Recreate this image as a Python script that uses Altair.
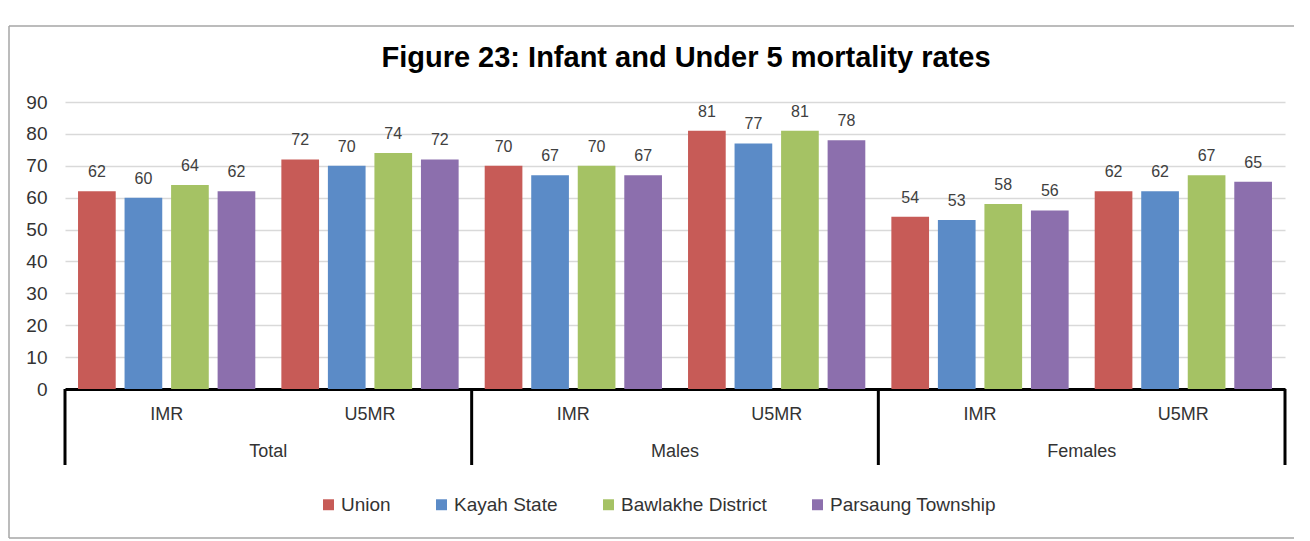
import altair as alt
import pandas as pd

title_text = "Figure 23: Infant and Under 5 mortality rates"
groups = ["Total", "Males", "Females"]
subs = ["IMR", "U5MR"]
series = ["Union", "Kayah State", "Bawlakhe District", "Parsaung Township"]
colors = ["#C75B57", "#5B8BC7", "#A5C264", "#8C6FAD"]

# values per (group, sub) in series order
total_imr = [62, 60, 64, 62]
total_u5mr = [72, 70, 74, 72]
males_imr = [70, 67, 70, 67]
males_u5mr = [81, 77, 81, 78]
females_imr = [54, 53, 58, 56]
females_u5mr = [62, 62, 67, 65]

y_ticks = [0, 10, 20, 30, 40, 50, 60, 70, 80, 90]

W, H = 1220, 287
PAD = {"left": 57, "top": 94, "right": 9, "bottom": 151}
FONT = "Liberation Sans"

blocks = {
    ("Total", "IMR"): total_imr, ("Total", "U5MR"): total_u5mr,
    ("Males", "IMR"): males_imr, ("Males", "U5MR"): males_u5mr,
    ("Females", "IMR"): females_imr, ("Females", "U5MR"): females_u5mr,
}
cats = [f"{g}|{s}" for g in groups for s in subs]
rows = []
for (g, s), vals in blocks.items():
    for ser, v in zip(series, vals):
        rows.append({"cat": f"{g}|{s}", "group": g, "sub": s, "series": ser, "value": v})
df = pd.DataFrame(rows)

cat_df = pd.DataFrame({"cat": cats, "sub": [c.split("|")[1] for c in cats]})
grp_df = pd.DataFrame({"cat": [f"{g}|U5MR" for g in groups], "group": groups})
sep_df = pd.DataFrame({"cat": [f"{g}|IMR" for g in groups]})
end_df = pd.DataFrame({"cat": [cats[-1]]})
title_df = pd.DataFrame({"t": [title_text]})

xscale = alt.Scale(domain=cats, paddingInner=0, paddingOuter=0)
x_axis = alt.Axis(labels=False, ticks=False, title=None, domain=True,
                  domainColor="#000000", domainWidth=3, grid=False)
x_enc = alt.X("cat:N", scale=xscale, axis=x_axis)
xoff = alt.XOffset("series:N", sort=series,
                   scale=alt.Scale(domain=series, paddingInner=0.19, paddingOuter=0.28))
y_enc = alt.Y("value:Q", scale=alt.Scale(domain=[0, 90], nice=False),
              axis=alt.Axis(values=y_ticks, title=None, domain=False, ticks=False,
                            labelPadding=18, labelFontSize=19, labelFont=FONT,
                            labelColor="#333333", gridColor="#d9d9d9", gridWidth=1.5,
                            labelOverlap=False))

bars = alt.Chart(df).mark_bar().encode(
    x=x_enc, xOffset=xoff, y=y_enc,
    color=alt.Color("series:N", sort=series,
                    scale=alt.Scale(domain=series, range=colors),
                    legend=alt.Legend(title=None, orient="none", direction="horizontal",
                                      legendX=254, legendY=393, symbolType="square",
                                      symbolSize=120, symbolStrokeWidth=0,
                                      labelFontSize=19, labelFont=FONT, labelColor="#333333",
                                      labelOffset=3, columnPadding=41, labelLimit=400)),
)

labels = alt.Chart(df).mark_text(baseline="bottom", dy=-11, fontSize=16, font=FONT,
                                 color="#404040").encode(
    x=x_enc, xOffset=xoff, y=y_enc,
    text=alt.Text("value:Q", format=".0f"),
)

sub_labels = alt.Chart(cat_df).mark_text(baseline="middle", fontSize=18, font=FONT,
                                         color="#333333").encode(
    x=x_enc, y=alt.value(H + 26), text="sub:N",
)

grp_labels = alt.Chart(grp_df).mark_text(baseline="middle", fontSize=18, font=FONT,
                                         color="#333333").encode(
    x=alt.X("cat:N", scale=xscale, axis=x_axis, bandPosition=0), y=alt.value(H + 63),
    text="group:N",
)

seps = alt.Chart(sep_df).mark_rule(color="#000000", strokeWidth=3).encode(
    x=alt.X("cat:N", scale=xscale, axis=x_axis, bandPosition=0),
    y=alt.value(H), y2=alt.value(H + 76),
)
end_sep = alt.Chart(end_df).mark_rule(color="#000000", strokeWidth=3).encode(
    x=alt.X("cat:N", scale=xscale, axis=x_axis, bandPosition=1),
    y=alt.value(H), y2=alt.value(H + 76),
)

title = alt.Chart(title_df).mark_text(fontSize=29, fontWeight="bold", font=FONT,
                                      color="#000000", baseline="middle").encode(
    x=alt.value(621), y=alt.value(-44), text="t:N",
)

frame_col = "#a6a6a6"
frame_left = alt.Chart(title_df).mark_rule(color=frame_col, strokeWidth=1.5).encode(
    x=alt.value(-56), y=alt.value(-76), y2=alt.value(436))
frame_top = alt.Chart(title_df).mark_rule(color=frame_col, strokeWidth=1.5).encode(
    x=alt.value(-56), x2=alt.value(W + 9), y=alt.value(-76))
frame_bottom = alt.Chart(title_df).mark_rule(color=frame_col, strokeWidth=1.5).encode(
    x=alt.value(-56), x2=alt.value(W + 9), y=alt.value(436))

chart = alt.layer(
    frame_left, frame_top, frame_bottom, bars, labels, sub_labels, grp_labels,
    seps, end_sep, title,
).properties(
    width=W, height=H, padding=PAD, autosize=alt.AutoSizeParams(type="none"),
    background="#ffffff",
).configure_view(stroke=None)

chart.save("out.html", embed_options={"renderer": "svg", "actions": False})
